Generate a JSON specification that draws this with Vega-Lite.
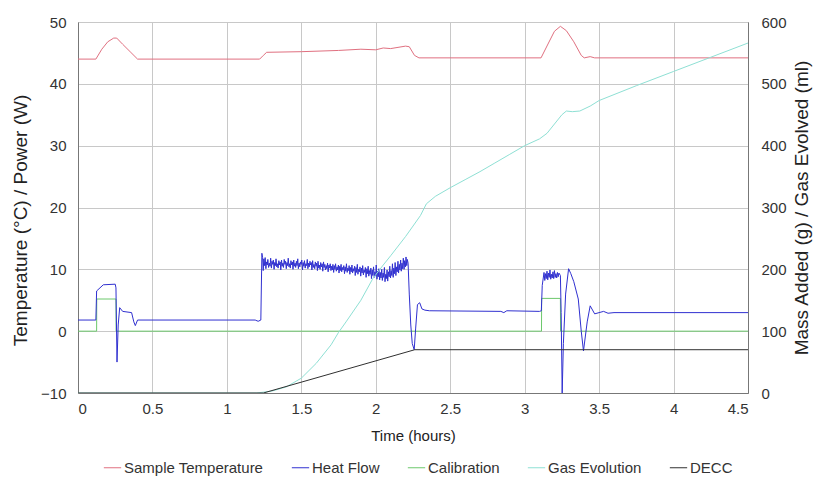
{
  "$schema": "https://vega.github.io/schema/vega-lite/v6.json",
  "width": 670,
  "height": 371,
  "autosize": {"type": "none"},
  "padding": {"left": 78, "top": 22, "right": 65, "bottom": 95},
  "background": "white",
  "config": {
    "font": "Liberation Sans",
    "view": {"stroke": "#999"},
    "axis": {
      "labelFont": "Liberation Sans", "labelFontSize": 15, "labelColor": "#333",
      "titleFont": "Liberation Sans", "titleFontSize": 19, "titleFontWeight": "normal", "titleColor": "#222",
      "gridColor": "#c8c8c8", "domainColor": "#777", "ticks": false
    },
    "legend": {"labelFont": "Liberation Sans", "labelFontSize": 15, "labelColor": "#333"}
  },
  "datasets": {
    "left": [
      {"t": 0, "v": 44, "s": "Sample Temperature"},
      {"t": 0.12, "v": 44, "s": "Sample Temperature"},
      {"t": 0.16, "v": 45.6, "s": "Sample Temperature"},
      {"t": 0.2, "v": 46.8, "s": "Sample Temperature"},
      {"t": 0.24, "v": 47.4, "s": "Sample Temperature"},
      {"t": 0.26, "v": 47.4, "s": "Sample Temperature"},
      {"t": 0.3, "v": 46.4, "s": "Sample Temperature"},
      {"t": 0.35, "v": 45.2, "s": "Sample Temperature"},
      {"t": 0.4, "v": 44, "s": "Sample Temperature"},
      {"t": 1.22, "v": 44, "s": "Sample Temperature"},
      {"t": 1.245, "v": 44.6, "s": "Sample Temperature"},
      {"t": 1.267, "v": 45.1, "s": "Sample Temperature"},
      {"t": 1.5, "v": 45.2, "s": "Sample Temperature"},
      {"t": 1.75, "v": 45.4, "s": "Sample Temperature"},
      {"t": 1.9, "v": 45.6, "s": "Sample Temperature"},
      {"t": 2.0, "v": 45.5, "s": "Sample Temperature"},
      {"t": 2.05, "v": 45.8, "s": "Sample Temperature"},
      {"t": 2.1, "v": 45.7, "s": "Sample Temperature"},
      {"t": 2.2, "v": 46.1, "s": "Sample Temperature"},
      {"t": 2.225, "v": 46.0, "s": "Sample Temperature"},
      {"t": 2.26, "v": 44.6, "s": "Sample Temperature"},
      {"t": 2.29, "v": 44.2, "s": "Sample Temperature"},
      {"t": 3.11, "v": 44.2, "s": "Sample Temperature"},
      {"t": 3.16, "v": 46.6, "s": "Sample Temperature"},
      {"t": 3.2, "v": 48.5, "s": "Sample Temperature"},
      {"t": 3.24, "v": 49.3, "s": "Sample Temperature"},
      {"t": 3.28, "v": 48.6, "s": "Sample Temperature"},
      {"t": 3.33, "v": 46.8, "s": "Sample Temperature"},
      {"t": 3.38, "v": 44.6, "s": "Sample Temperature"},
      {"t": 3.4, "v": 44.2, "s": "Sample Temperature"},
      {"t": 3.44, "v": 44.4, "s": "Sample Temperature"},
      {"t": 3.47, "v": 44.2, "s": "Sample Temperature"},
      {"t": 4.5, "v": 44.2, "s": "Sample Temperature"},

      {"t": 0, "v": 0, "s": "Calibration"},
      {"t": 0.125, "v": 0, "s": "Calibration"},
      {"t": 0.126, "v": 5.2, "s": "Calibration"},
      {"t": 0.255, "v": 5.2, "s": "Calibration"},
      {"t": 0.256, "v": 0, "s": "Calibration"},
      {"t": 3.113, "v": 0, "s": "Calibration"},
      {"t": 3.114, "v": 5.3, "s": "Calibration"},
      {"t": 3.24, "v": 5.3, "s": "Calibration"},
      {"t": 3.241, "v": 0, "s": "Calibration"},
      {"t": 4.5, "v": 0, "s": "Calibration"},

      {"t": 0, "v": 1.8, "s": "Heat Flow"},
      {"t": 0.12, "v": 1.8, "s": "Heat Flow"},
      {"t": 0.125, "v": 6.5, "s": "Heat Flow"},
      {"t": 0.17, "v": 7.5, "s": "Heat Flow"},
      {"t": 0.25, "v": 7.6, "s": "Heat Flow"},
      {"t": 0.255, "v": 7.0, "s": "Heat Flow"},
      {"t": 0.262, "v": -5.0, "s": "Heat Flow"},
      {"t": 0.27, "v": 1.0, "s": "Heat Flow"},
      {"t": 0.28, "v": 3.8, "s": "Heat Flow"},
      {"t": 0.3, "v": 3.2, "s": "Heat Flow"},
      {"t": 0.36, "v": 3.0, "s": "Heat Flow"},
      {"t": 0.375, "v": 1.5, "s": "Heat Flow"},
      {"t": 0.385, "v": 0.9, "s": "Heat Flow"},
      {"t": 0.4, "v": 1.8, "s": "Heat Flow"},
      {"t": 1.19, "v": 1.8, "s": "Heat Flow"},
      {"t": 1.21, "v": 1.6, "s": "Heat Flow"},
      {"t": 1.228, "v": 1.8, "s": "Heat Flow"},
      {"t": 1.235, "v": 12.6, "s": "Heat Flow"},
      {"t": 1.24, "v": 11.9, "s": "Heat Flow"},
      {"t": 1.244, "v": 9.8, "s": "Heat Flow"},
      {"t": 1.248, "v": 11.7, "s": "Heat Flow"},
      {"t": 1.253, "v": 10.6, "s": "Heat Flow"},
      {"t": 1.257, "v": 11.9, "s": "Heat Flow"},
      {"t": 1.262, "v": 10.1, "s": "Heat Flow"},
      {"t": 1.266, "v": 11.2, "s": "Heat Flow"},
      {"t": 1.271, "v": 10.7, "s": "Heat Flow"},
      {"t": 1.275, "v": 11.6, "s": "Heat Flow"},
      {"t": 1.28, "v": 10.3, "s": "Heat Flow"},
      {"t": 1.285, "v": 11.0, "s": "Heat Flow"},
      {"t": 1.29, "v": 10.5, "s": "Heat Flow"},
      {"t": 1.294, "v": 11.8, "s": "Heat Flow"},
      {"t": 1.299, "v": 10.2, "s": "Heat Flow"},
      {"t": 1.303, "v": 11.3, "s": "Heat Flow"},
      {"t": 1.308, "v": 10.8, "s": "Heat Flow"},
      {"t": 1.312, "v": 11.5, "s": "Heat Flow"},
      {"t": 1.317, "v": 10.0, "s": "Heat Flow"},
      {"t": 1.321, "v": 11.1, "s": "Heat Flow"},
      {"t": 1.326, "v": 10.6, "s": "Heat Flow"},
      {"t": 1.33, "v": 11.7, "s": "Heat Flow"},
      {"t": 1.335, "v": 10.4, "s": "Heat Flow"},
      {"t": 1.34, "v": 10.9, "s": "Heat Flow"},
      {"t": 1.344, "v": 10.2, "s": "Heat Flow"},
      {"t": 1.349, "v": 11.4, "s": "Heat Flow"},
      {"t": 1.353, "v": 10.7, "s": "Heat Flow"},
      {"t": 1.358, "v": 11.2, "s": "Heat Flow"},
      {"t": 1.362, "v": 9.9, "s": "Heat Flow"},
      {"t": 1.367, "v": 11.5, "s": "Heat Flow"},
      {"t": 1.371, "v": 10.5, "s": "Heat Flow"},
      {"t": 1.376, "v": 11.0, "s": "Heat Flow"},
      {"t": 1.38, "v": 10.3, "s": "Heat Flow"},
      {"t": 1.385, "v": 11.6, "s": "Heat Flow"},
      {"t": 1.39, "v": 10.8, "s": "Heat Flow"},
      {"t": 1.394, "v": 11.3, "s": "Heat Flow"},
      {"t": 1.399, "v": 10.1, "s": "Heat Flow"},
      {"t": 1.403, "v": 11.1, "s": "Heat Flow"},
      {"t": 1.408, "v": 10.6, "s": "Heat Flow"},
      {"t": 1.412, "v": 11.8, "s": "Heat Flow"},
      {"t": 1.417, "v": 10.4, "s": "Heat Flow"},
      {"t": 1.421, "v": 10.9, "s": "Heat Flow"},
      {"t": 1.426, "v": 10.2, "s": "Heat Flow"},
      {"t": 1.43, "v": 11.4, "s": "Heat Flow"},
      {"t": 1.435, "v": 10.7, "s": "Heat Flow"},
      {"t": 1.44, "v": 11.2, "s": "Heat Flow"},
      {"t": 1.444, "v": 10.0, "s": "Heat Flow"},
      {"t": 1.449, "v": 11.5, "s": "Heat Flow"},
      {"t": 1.453, "v": 10.5, "s": "Heat Flow"},
      {"t": 1.458, "v": 11.0, "s": "Heat Flow"},
      {"t": 1.462, "v": 10.3, "s": "Heat Flow"},
      {"t": 1.467, "v": 11.3, "s": "Heat Flow"},
      {"t": 1.471, "v": 10.6, "s": "Heat Flow"},
      {"t": 1.476, "v": 11.7, "s": "Heat Flow"},
      {"t": 1.48, "v": 10.1, "s": "Heat Flow"},
      {"t": 1.485, "v": 11.0, "s": "Heat Flow"},
      {"t": 1.49, "v": 10.4, "s": "Heat Flow"},
      {"t": 1.494, "v": 11.2, "s": "Heat Flow"},
      {"t": 1.499, "v": 10.8, "s": "Heat Flow"},
      {"t": 1.503, "v": 11.5, "s": "Heat Flow"},
      {"t": 1.508, "v": 9.9, "s": "Heat Flow"},
      {"t": 1.512, "v": 11.1, "s": "Heat Flow"},
      {"t": 1.517, "v": 10.5, "s": "Heat Flow"},
      {"t": 1.521, "v": 11.4, "s": "Heat Flow"},
      {"t": 1.526, "v": 10.2, "s": "Heat Flow"},
      {"t": 1.53, "v": 10.9, "s": "Heat Flow"},
      {"t": 1.535, "v": 10.6, "s": "Heat Flow"},
      {"t": 1.54, "v": 11.6, "s": "Heat Flow"},
      {"t": 1.544, "v": 10.1, "s": "Heat Flow"},
      {"t": 1.549, "v": 11.0, "s": "Heat Flow"},
      {"t": 1.553, "v": 10.4, "s": "Heat Flow"},
      {"t": 1.558, "v": 11.3, "s": "Heat Flow"},
      {"t": 1.562, "v": 10.7, "s": "Heat Flow"},
      {"t": 1.567, "v": 11.1, "s": "Heat Flow"},
      {"t": 1.571, "v": 9.9, "s": "Heat Flow"},
      {"t": 1.576, "v": 11.4, "s": "Heat Flow"},
      {"t": 1.58, "v": 10.3, "s": "Heat Flow"},
      {"t": 1.585, "v": 10.8, "s": "Heat Flow"},
      {"t": 1.59, "v": 10.1, "s": "Heat Flow"},
      {"t": 1.594, "v": 11.2, "s": "Heat Flow"},
      {"t": 1.599, "v": 10.5, "s": "Heat Flow"},
      {"t": 1.603, "v": 11.0, "s": "Heat Flow"},
      {"t": 1.608, "v": 9.8, "s": "Heat Flow"},
      {"t": 1.612, "v": 11.3, "s": "Heat Flow"},
      {"t": 1.617, "v": 10.2, "s": "Heat Flow"},
      {"t": 1.621, "v": 10.7, "s": "Heat Flow"},
      {"t": 1.626, "v": 10.0, "s": "Heat Flow"},
      {"t": 1.63, "v": 11.1, "s": "Heat Flow"},
      {"t": 1.635, "v": 10.4, "s": "Heat Flow"},
      {"t": 1.64, "v": 10.9, "s": "Heat Flow"},
      {"t": 1.644, "v": 9.7, "s": "Heat Flow"},
      {"t": 1.649, "v": 11.2, "s": "Heat Flow"},
      {"t": 1.653, "v": 10.3, "s": "Heat Flow"},
      {"t": 1.658, "v": 10.8, "s": "Heat Flow"},
      {"t": 1.662, "v": 9.9, "s": "Heat Flow"},
      {"t": 1.667, "v": 10.6, "s": "Heat Flow"},
      {"t": 1.671, "v": 10.1, "s": "Heat Flow"},
      {"t": 1.676, "v": 11.0, "s": "Heat Flow"},
      {"t": 1.68, "v": 9.6, "s": "Heat Flow"},
      {"t": 1.685, "v": 10.7, "s": "Heat Flow"},
      {"t": 1.69, "v": 10.2, "s": "Heat Flow"},
      {"t": 1.694, "v": 10.9, "s": "Heat Flow"},
      {"t": 1.699, "v": 9.8, "s": "Heat Flow"},
      {"t": 1.703, "v": 10.5, "s": "Heat Flow"},
      {"t": 1.708, "v": 9.9, "s": "Heat Flow"},
      {"t": 1.712, "v": 10.8, "s": "Heat Flow"},
      {"t": 1.717, "v": 9.5, "s": "Heat Flow"},
      {"t": 1.721, "v": 10.6, "s": "Heat Flow"},
      {"t": 1.726, "v": 10.0, "s": "Heat Flow"},
      {"t": 1.73, "v": 10.9, "s": "Heat Flow"},
      {"t": 1.735, "v": 9.7, "s": "Heat Flow"},
      {"t": 1.74, "v": 10.4, "s": "Heat Flow"},
      {"t": 1.744, "v": 9.9, "s": "Heat Flow"},
      {"t": 1.749, "v": 10.7, "s": "Heat Flow"},
      {"t": 1.753, "v": 9.4, "s": "Heat Flow"},
      {"t": 1.758, "v": 10.5, "s": "Heat Flow"},
      {"t": 1.762, "v": 9.8, "s": "Heat Flow"},
      {"t": 1.767, "v": 10.8, "s": "Heat Flow"},
      {"t": 1.771, "v": 9.6, "s": "Heat Flow"},
      {"t": 1.776, "v": 10.3, "s": "Heat Flow"},
      {"t": 1.78, "v": 9.9, "s": "Heat Flow"},
      {"t": 1.785, "v": 10.6, "s": "Heat Flow"},
      {"t": 1.79, "v": 9.3, "s": "Heat Flow"},
      {"t": 1.794, "v": 10.4, "s": "Heat Flow"},
      {"t": 1.799, "v": 9.7, "s": "Heat Flow"},
      {"t": 1.803, "v": 10.9, "s": "Heat Flow"},
      {"t": 1.808, "v": 9.5, "s": "Heat Flow"},
      {"t": 1.812, "v": 10.2, "s": "Heat Flow"},
      {"t": 1.817, "v": 9.8, "s": "Heat Flow"},
      {"t": 1.821, "v": 10.6, "s": "Heat Flow"},
      {"t": 1.826, "v": 9.2, "s": "Heat Flow"},
      {"t": 1.83, "v": 10.3, "s": "Heat Flow"},
      {"t": 1.835, "v": 9.6, "s": "Heat Flow"},
      {"t": 1.84, "v": 10.7, "s": "Heat Flow"},
      {"t": 1.844, "v": 9.4, "s": "Heat Flow"},
      {"t": 1.849, "v": 10.1, "s": "Heat Flow"},
      {"t": 1.853, "v": 9.7, "s": "Heat Flow"},
      {"t": 1.858, "v": 10.5, "s": "Heat Flow"},
      {"t": 1.862, "v": 9.0, "s": "Heat Flow"},
      {"t": 1.867, "v": 10.3, "s": "Heat Flow"},
      {"t": 1.871, "v": 9.5, "s": "Heat Flow"},
      {"t": 1.876, "v": 10.8, "s": "Heat Flow"},
      {"t": 1.88, "v": 9.2, "s": "Heat Flow"},
      {"t": 1.885, "v": 10.0, "s": "Heat Flow"},
      {"t": 1.89, "v": 9.6, "s": "Heat Flow"},
      {"t": 1.894, "v": 10.4, "s": "Heat Flow"},
      {"t": 1.899, "v": 8.9, "s": "Heat Flow"},
      {"t": 1.903, "v": 10.2, "s": "Heat Flow"},
      {"t": 1.908, "v": 9.4, "s": "Heat Flow"},
      {"t": 1.912, "v": 10.6, "s": "Heat Flow"},
      {"t": 1.917, "v": 9.1, "s": "Heat Flow"},
      {"t": 1.921, "v": 9.9, "s": "Heat Flow"},
      {"t": 1.926, "v": 9.5, "s": "Heat Flow"},
      {"t": 1.93, "v": 10.3, "s": "Heat Flow"},
      {"t": 1.935, "v": 8.7, "s": "Heat Flow"},
      {"t": 1.94, "v": 10.1, "s": "Heat Flow"},
      {"t": 1.944, "v": 9.3, "s": "Heat Flow"},
      {"t": 1.949, "v": 10.5, "s": "Heat Flow"},
      {"t": 1.953, "v": 8.9, "s": "Heat Flow"},
      {"t": 1.958, "v": 9.8, "s": "Heat Flow"},
      {"t": 1.962, "v": 9.2, "s": "Heat Flow"},
      {"t": 1.967, "v": 10.2, "s": "Heat Flow"},
      {"t": 1.971, "v": 8.5, "s": "Heat Flow"},
      {"t": 1.976, "v": 9.9, "s": "Heat Flow"},
      {"t": 1.98, "v": 9.0, "s": "Heat Flow"},
      {"t": 1.985, "v": 10.4, "s": "Heat Flow"},
      {"t": 1.99, "v": 8.7, "s": "Heat Flow"},
      {"t": 1.994, "v": 9.6, "s": "Heat Flow"},
      {"t": 1.999, "v": 8.9, "s": "Heat Flow"},
      {"t": 2.003, "v": 10.7, "s": "Heat Flow"},
      {"t": 2.008, "v": 8.4, "s": "Heat Flow"},
      {"t": 2.012, "v": 9.7, "s": "Heat Flow"},
      {"t": 2.017, "v": 8.8, "s": "Heat Flow"},
      {"t": 2.021, "v": 10.1, "s": "Heat Flow"},
      {"t": 2.026, "v": 8.3, "s": "Heat Flow"},
      {"t": 2.03, "v": 9.5, "s": "Heat Flow"},
      {"t": 2.035, "v": 8.6, "s": "Heat Flow"},
      {"t": 2.04, "v": 10.0, "s": "Heat Flow"},
      {"t": 2.044, "v": 8.2, "s": "Heat Flow"},
      {"t": 2.049, "v": 9.4, "s": "Heat Flow"},
      {"t": 2.053, "v": 8.7, "s": "Heat Flow"},
      {"t": 2.058, "v": 10.3, "s": "Heat Flow"},
      {"t": 2.062, "v": 8.0, "s": "Heat Flow"},
      {"t": 2.067, "v": 9.2, "s": "Heat Flow"},
      {"t": 2.071, "v": 8.5, "s": "Heat Flow"},
      {"t": 2.076, "v": 9.9, "s": "Heat Flow"},
      {"t": 2.08, "v": 8.1, "s": "Heat Flow"},
      {"t": 2.085, "v": 9.6, "s": "Heat Flow"},
      {"t": 2.09, "v": 8.8, "s": "Heat Flow"},
      {"t": 2.094, "v": 10.5, "s": "Heat Flow"},
      {"t": 2.099, "v": 8.6, "s": "Heat Flow"},
      {"t": 2.103, "v": 9.8, "s": "Heat Flow"},
      {"t": 2.108, "v": 9.0, "s": "Heat Flow"},
      {"t": 2.112, "v": 10.9, "s": "Heat Flow"},
      {"t": 2.117, "v": 8.7, "s": "Heat Flow"},
      {"t": 2.121, "v": 10.2, "s": "Heat Flow"},
      {"t": 2.126, "v": 9.3, "s": "Heat Flow"},
      {"t": 2.13, "v": 11.1, "s": "Heat Flow"},
      {"t": 2.135, "v": 9.0, "s": "Heat Flow"},
      {"t": 2.14, "v": 10.4, "s": "Heat Flow"},
      {"t": 2.144, "v": 9.6, "s": "Heat Flow"},
      {"t": 2.149, "v": 11.3, "s": "Heat Flow"},
      {"t": 2.153, "v": 9.4, "s": "Heat Flow"},
      {"t": 2.158, "v": 10.8, "s": "Heat Flow"},
      {"t": 2.162, "v": 9.9, "s": "Heat Flow"},
      {"t": 2.167, "v": 11.5, "s": "Heat Flow"},
      {"t": 2.171, "v": 9.7, "s": "Heat Flow"},
      {"t": 2.176, "v": 11.0, "s": "Heat Flow"},
      {"t": 2.18, "v": 10.1, "s": "Heat Flow"},
      {"t": 2.185, "v": 11.8, "s": "Heat Flow"},
      {"t": 2.19, "v": 10.0, "s": "Heat Flow"},
      {"t": 2.194, "v": 11.4, "s": "Heat Flow"},
      {"t": 2.199, "v": 10.4, "s": "Heat Flow"},
      {"t": 2.203, "v": 12.0, "s": "Heat Flow"},
      {"t": 2.208, "v": 10.6, "s": "Heat Flow"},
      {"t": 2.212, "v": 11.6, "s": "Heat Flow"},
      {"t": 2.217, "v": 11.0, "s": "Heat Flow"},
      {"t": 2.225, "v": 6.0, "s": "Heat Flow"},
      {"t": 2.235, "v": 1.0, "s": "Heat Flow"},
      {"t": 2.245, "v": -2.0, "s": "Heat Flow"},
      {"t": 2.258, "v": -3.0, "s": "Heat Flow"},
      {"t": 2.268, "v": 0.5, "s": "Heat Flow"},
      {"t": 2.28, "v": 4.3, "s": "Heat Flow"},
      {"t": 2.295, "v": 4.6, "s": "Heat Flow"},
      {"t": 2.31, "v": 3.6, "s": "Heat Flow"},
      {"t": 2.33, "v": 3.4, "s": "Heat Flow"},
      {"t": 2.36, "v": 3.3, "s": "Heat Flow"},
      {"t": 2.84, "v": 3.2, "s": "Heat Flow"},
      {"t": 2.86, "v": 3.0, "s": "Heat Flow"},
      {"t": 2.88, "v": 3.3, "s": "Heat Flow"},
      {"t": 3.10, "v": 3.2, "s": "Heat Flow"},
      {"t": 3.112, "v": 3.3, "s": "Heat Flow"},
      {"t": 3.118, "v": 7.4, "s": "Heat Flow"},
      {"t": 3.125, "v": 8.6, "s": "Heat Flow"},
      {"t": 3.13, "v": 9.5, "s": "Heat Flow"},
      {"t": 3.135, "v": 8.2, "s": "Heat Flow"},
      {"t": 3.14, "v": 9.3, "s": "Heat Flow"},
      {"t": 3.145, "v": 8.5, "s": "Heat Flow"},
      {"t": 3.15, "v": 9.7, "s": "Heat Flow"},
      {"t": 3.155, "v": 8.3, "s": "Heat Flow"},
      {"t": 3.16, "v": 9.4, "s": "Heat Flow"},
      {"t": 3.165, "v": 8.7, "s": "Heat Flow"},
      {"t": 3.17, "v": 9.9, "s": "Heat Flow"},
      {"t": 3.175, "v": 8.4, "s": "Heat Flow"},
      {"t": 3.18, "v": 9.2, "s": "Heat Flow"},
      {"t": 3.185, "v": 8.6, "s": "Heat Flow"},
      {"t": 3.19, "v": 9.6, "s": "Heat Flow"},
      {"t": 3.195, "v": 8.5, "s": "Heat Flow"},
      {"t": 3.2, "v": 9.8, "s": "Heat Flow"},
      {"t": 3.205, "v": 8.7, "s": "Heat Flow"},
      {"t": 3.21, "v": 9.3, "s": "Heat Flow"},
      {"t": 3.215, "v": 8.6, "s": "Heat Flow"},
      {"t": 3.22, "v": 9.5, "s": "Heat Flow"},
      {"t": 3.225, "v": 8.8, "s": "Heat Flow"},
      {"t": 3.23, "v": 9.4, "s": "Heat Flow"},
      {"t": 3.24, "v": 9.0, "s": "Heat Flow"},
      {"t": 3.245, "v": 3.0, "s": "Heat Flow"},
      {"t": 3.252, "v": -10.0, "s": "Heat Flow"},
      {"t": 3.26, "v": -2.0, "s": "Heat Flow"},
      {"t": 3.275, "v": 6.0, "s": "Heat Flow"},
      {"t": 3.295, "v": 10.1, "s": "Heat Flow"},
      {"t": 3.31, "v": 9.3, "s": "Heat Flow"},
      {"t": 3.33, "v": 8.0, "s": "Heat Flow"},
      {"t": 3.36, "v": 5.2, "s": "Heat Flow"},
      {"t": 3.38, "v": 0.0, "s": "Heat Flow"},
      {"t": 3.395, "v": -3.2, "s": "Heat Flow"},
      {"t": 3.42, "v": 1.5, "s": "Heat Flow"},
      {"t": 3.44, "v": 4.1, "s": "Heat Flow"},
      {"t": 3.47, "v": 2.8, "s": "Heat Flow"},
      {"t": 3.5, "v": 3.0, "s": "Heat Flow"},
      {"t": 3.53, "v": 3.2, "s": "Heat Flow"},
      {"t": 3.56, "v": 2.9, "s": "Heat Flow"},
      {"t": 3.6, "v": 3.0, "s": "Heat Flow"},
      {"t": 4.5, "v": 3.0, "s": "Heat Flow"}
    ],
    "right": [
      {"t": 0, "v": 0, "s": "Gas Evolution"},
      {"t": 1.2, "v": 0, "s": "Gas Evolution"},
      {"t": 1.3, "v": 3, "s": "Gas Evolution"},
      {"t": 1.4, "v": 10, "s": "Gas Evolution"},
      {"t": 1.5, "v": 24, "s": "Gas Evolution"},
      {"t": 1.6, "v": 48, "s": "Gas Evolution"},
      {"t": 1.7, "v": 78, "s": "Gas Evolution"},
      {"t": 1.75, "v": 98, "s": "Gas Evolution"},
      {"t": 1.8, "v": 115, "s": "Gas Evolution"},
      {"t": 1.9, "v": 150, "s": "Gas Evolution"},
      {"t": 1.98, "v": 185, "s": "Gas Evolution"},
      {"t": 2.05, "v": 207, "s": "Gas Evolution"},
      {"t": 2.1, "v": 222, "s": "Gas Evolution"},
      {"t": 2.2, "v": 253, "s": "Gas Evolution"},
      {"t": 2.25, "v": 270, "s": "Gas Evolution"},
      {"t": 2.3, "v": 287, "s": "Gas Evolution"},
      {"t": 2.34, "v": 306, "s": "Gas Evolution"},
      {"t": 2.4, "v": 318, "s": "Gas Evolution"},
      {"t": 2.5, "v": 332, "s": "Gas Evolution"},
      {"t": 2.6, "v": 345, "s": "Gas Evolution"},
      {"t": 2.7, "v": 358, "s": "Gas Evolution"},
      {"t": 2.8, "v": 372, "s": "Gas Evolution"},
      {"t": 2.9, "v": 386, "s": "Gas Evolution"},
      {"t": 3.0, "v": 400, "s": "Gas Evolution"},
      {"t": 3.1, "v": 411, "s": "Gas Evolution"},
      {"t": 3.15, "v": 420, "s": "Gas Evolution"},
      {"t": 3.2, "v": 435, "s": "Gas Evolution"},
      {"t": 3.25, "v": 450, "s": "Gas Evolution"},
      {"t": 3.28, "v": 456, "s": "Gas Evolution"},
      {"t": 3.32, "v": 455, "s": "Gas Evolution"},
      {"t": 3.37, "v": 456, "s": "Gas Evolution"},
      {"t": 3.44, "v": 464, "s": "Gas Evolution"},
      {"t": 3.5, "v": 473, "s": "Gas Evolution"},
      {"t": 3.75, "v": 497, "s": "Gas Evolution"},
      {"t": 4.0, "v": 520, "s": "Gas Evolution"},
      {"t": 4.25, "v": 543, "s": "Gas Evolution"},
      {"t": 4.5, "v": 566, "s": "Gas Evolution"},

      {"t": 0, "v": 0, "s": "DECC"},
      {"t": 1.245, "v": 0, "s": "DECC"},
      {"t": 2.262, "v": 70, "s": "DECC"},
      {"t": 4.5, "v": 70, "s": "DECC"}
    ]
  },
  "layer": [
    {
      "data": {"name": "left"},
      "mark": {"type": "line", "strokeWidth": 1, "clip": true},
      "encoding": {
        "x": {"field": "t", "type": "quantitative",
          "scale": {"domain": [0, 4.5], "nice": false},
          "axis": {"values": [0, 0.5, 1, 1.5, 2, 2.5, 3, 3.5, 4, 4.5], "labelExpr": "'' + datum.value", "title": "Time (hours)", "titleFontSize": 15, "labelPadding": 8, "titlePadding": 12, "grid": true}},
        "y": {"field": "v", "type": "quantitative",
          "scale": {"domain": [-10, 50], "nice": false},
          "axis": {"values": [-10, 0, 10, 20, 30, 40, 50], "title": "Temperature (°C) / Power (W)", "titleY": 198, "labelPadding": 12, "titlePadding": 10, "grid": true}},
        "color": {"field": "s", "type": "nominal",
          "scale": {"domain": ["Sample Temperature", "Heat Flow", "Calibration", "Gas Evolution", "DECC"],
                    "range": ["#e07080", "#3030d0", "#6cc86c", "#8ee0d4", "#303030"]},
          "legend": {"title": null, "orient": "none", "direction": "horizontal", "legendX": 25, "legendY": 436, "symbolType": "stroke", "symbolSize": 300, "symbolStrokeWidth": 1, "columnPadding": 25, "labelOffset": 2}}
      }
    },
    {
      "data": {"name": "right"},
      "mark": {"type": "line", "strokeWidth": 1, "clip": true},
      "encoding": {
        "x": {"field": "t", "type": "quantitative",
          "scale": {"domain": [0, 4.5], "nice": false},
          "axis": {"values": [0, 0.5, 1, 1.5, 2, 2.5, 3, 3.5, 4, 4.5], "labelExpr": "'' + datum.value", "title": "Time (hours)", "titleFontSize": 15, "labelPadding": 8, "titlePadding": 12, "grid": true}},
        "y": {"field": "v", "type": "quantitative",
          "scale": {"domain": [0, 600], "nice": false},
          "axis": {"orient": "right", "values": [0, 100, 200, 300, 400, 500, 600], "title": "Mass Added (g) / Gas Evolved (ml)", "titleAngle": 270, "titleBaseline": "top", "labelPadding": 13, "titlePadding": 6, "grid": false}},
        "color": {"field": "s", "type": "nominal",
          "scale": {"domain": ["Sample Temperature", "Heat Flow", "Calibration", "Gas Evolution", "DECC"],
                    "range": ["#e07080", "#3030d0", "#6cc86c", "#8ee0d4", "#303030"]}}
      }
    }
  ],
  "resolve": {"scale": {"y": "independent"}}
}
